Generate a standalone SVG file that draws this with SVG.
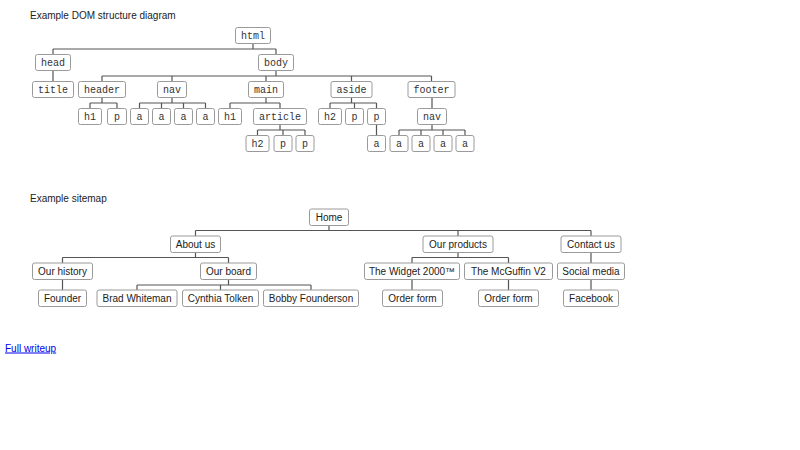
<svg xmlns="http://www.w3.org/2000/svg" width="800" height="450" viewBox="0 0 800 450">
<style>
.bg{fill:#ffffff}
.title{font-family:"Liberation Sans",Arial,sans-serif;font-size:10px;fill:#222}
.box{fill:#ffffff;stroke:#9a9a9a;stroke-width:1}
.mono{font-family:"Liberation Mono","Courier New",monospace;font-size:10px;fill:#333;text-anchor:middle}
.sans{font-family:"Liberation Sans",Arial,sans-serif;font-size:10px;fill:#222;text-anchor:middle}
.conn{fill:none;stroke:#555;stroke-width:1.2}
.link{font-family:"Liberation Sans",Arial,sans-serif;font-size:10px;fill:#0000ee;text-decoration:underline}
</style>
<rect class="bg" x="0" y="0" width="800" height="450"/>
<text class="title" x="30" y="19">Example DOM structure diagram</text>

<g id="dom-connectors">
<path class="conn" d="M253 43.5V49M53 49H276M53 49V54M276 49V54"/>
<path class="conn" d="M53 70.5V81"/>
<path class="conn" d="M276 70.5V76M102 76H431.5M102 76V81M172 76V81M266 76V81M351.5 76V81M431.5 76V81"/>
<path class="conn" d="M102 97.5V103M90 103H117M90 103V108M117 103V108"/>
<path class="conn" d="M172 97.5V103M139.5 103H205.5M139.5 103V108M161.5 103V108M183.5 103V108M205.5 103V108"/>
<path class="conn" d="M266 97.5V103M230 103H280M230 103V108M280 103V108"/>
<path class="conn" d="M351.5 97.5V103M330 103H376.5M330 103V108M354.5 103V108M376.5 103V108"/>
<path class="conn" d="M432 97.5V108"/>
<path class="conn" d="M280 124.5V130M257.5 130H305M257.5 130V135M283 130V135M305 130V135"/>
<path class="conn" d="M376.5 124.5V135"/>
<path class="conn" d="M432 124.5V130M399 130H465M399 130V135M421 130V135M443 130V135M465 130V135"/>
</g>

<g id="dom-html"><rect class="box" x="235.5" y="27.5" width="35" height="16" rx="2"/><text class="mono" x="253" y="39">html</text></g>
<g id="dom-head"><rect class="box" x="35.5" y="54.5" width="35" height="16" rx="2"/><text class="mono" x="53" y="66">head</text></g>
<g id="dom-body"><rect class="box" x="258.5" y="54.5" width="35" height="16" rx="2"/><text class="mono" x="276" y="66">body</text></g>
<g id="dom-title"><rect class="box" x="32.5" y="81.5" width="41" height="16" rx="2"/><text class="mono" x="53" y="93">title</text></g>
<g id="dom-header"><rect class="box" x="78.5" y="81.5" width="47" height="16" rx="2"/><text class="mono" x="102" y="93">header</text></g>
<g id="dom-nav1"><rect class="box" x="157.5" y="81.5" width="29" height="16" rx="2"/><text class="mono" x="172" y="93">nav</text></g>
<g id="dom-main"><rect class="box" x="248.5" y="81.5" width="35" height="16" rx="2"/><text class="mono" x="266" y="93">main</text></g>
<g id="dom-aside"><rect class="box" x="331" y="81.5" width="41" height="16" rx="2"/><text class="mono" x="351.5" y="93">aside</text></g>
<g id="dom-footer"><rect class="box" x="408" y="81.5" width="47" height="16" rx="2"/><text class="mono" x="431.5" y="93">footer</text></g>

<g id="dom-header-h1"><rect class="box" x="78.5" y="108.5" width="23" height="16" rx="2"/><text class="mono" x="90" y="120">h1</text></g>
<g id="dom-header-p"><rect class="box" x="107.5" y="108.5" width="19" height="16" rx="2"/><text class="mono" x="117" y="120">p</text></g>
<g id="dom-nav1-a1"><rect class="box" x="130.5" y="108.5" width="18" height="16" rx="2"/><text class="mono" x="139.5" y="120">a</text></g>
<g id="dom-nav1-a2"><rect class="box" x="152.5" y="108.5" width="18" height="16" rx="2"/><text class="mono" x="161.5" y="120">a</text></g>
<g id="dom-nav1-a3"><rect class="box" x="174.5" y="108.5" width="18" height="16" rx="2"/><text class="mono" x="183.5" y="120">a</text></g>
<g id="dom-nav1-a4"><rect class="box" x="196.5" y="108.5" width="18" height="16" rx="2"/><text class="mono" x="205.5" y="120">a</text></g>
<g id="dom-main-h1"><rect class="box" x="218.5" y="108.5" width="23" height="16" rx="2"/><text class="mono" x="230" y="120">h1</text></g>
<g id="dom-article"><rect class="box" x="253.5" y="108.5" width="53" height="16" rx="2"/><text class="mono" x="280" y="120">article</text></g>
<g id="dom-aside-h2"><rect class="box" x="318.5" y="108.5" width="23" height="16" rx="2"/><text class="mono" x="330" y="120">h2</text></g>
<g id="dom-aside-p1"><rect class="box" x="345.5" y="108.5" width="18" height="16" rx="2"/><text class="mono" x="354.5" y="120">p</text></g>
<g id="dom-aside-p2"><rect class="box" x="367.5" y="108.5" width="18" height="16" rx="2"/><text class="mono" x="376.5" y="120">p</text></g>
<g id="dom-nav2"><rect class="box" x="417.5" y="108.5" width="29" height="16" rx="2"/><text class="mono" x="432" y="120">nav</text></g>

<g id="dom-article-h2"><rect class="box" x="246" y="135.5" width="23" height="16" rx="2"/><text class="mono" x="257.5" y="147">h2</text></g>
<g id="dom-article-p1"><rect class="box" x="274" y="135.5" width="18" height="16" rx="2"/><text class="mono" x="283" y="147">p</text></g>
<g id="dom-article-p2"><rect class="box" x="296" y="135.5" width="18" height="16" rx="2"/><text class="mono" x="305" y="147">p</text></g>
<g id="dom-aside-p2-a"><rect class="box" x="367.5" y="135.5" width="18" height="16" rx="2"/><text class="mono" x="376.5" y="147">a</text></g>
<g id="dom-nav2-a1"><rect class="box" x="390" y="135.5" width="18" height="16" rx="2"/><text class="mono" x="399" y="147">a</text></g>
<g id="dom-nav2-a2"><rect class="box" x="412" y="135.5" width="18" height="16" rx="2"/><text class="mono" x="421" y="147">a</text></g>
<g id="dom-nav2-a3"><rect class="box" x="434" y="135.5" width="18" height="16" rx="2"/><text class="mono" x="443" y="147">a</text></g>
<g id="dom-nav2-a4"><rect class="box" x="456" y="135.5" width="18" height="16" rx="2"/><text class="mono" x="465" y="147">a</text></g>

<text class="title" x="30" y="202">Example sitemap</text>

<g id="site-connectors">
<path class="conn" d="M329 225.5V230.5M195.5 230.5H591M195.5 230.5V236M458 230.5V236M591 230.5V236"/>
<path class="conn" d="M195.5 252.5V257.5M62.5 257.5H228.5M62.5 257.5V263M228.5 257.5V263"/>
<path class="conn" d="M62.5 279.5V290"/>
<path class="conn" d="M228.5 279.5V285M137 285H311M137 285V290M220.5 285V290M311 285V290"/>
<path class="conn" d="M458 252.5V257.5M412 257.5H508.5M412 257.5V263M508.5 257.5V263"/>
<path class="conn" d="M412 279.5V290M508.5 279.5V290"/>
<path class="conn" d="M591 252.5V263M591 279.5V290"/>
</g>

<g id="site-home"><rect class="box" x="309.5" y="209" width="39" height="16.5" rx="2"/><text class="sans" x="329" y="220.8">Home</text></g>
<g id="site-about"><rect class="box" x="170.5" y="236" width="50" height="16.5" rx="2"/><text class="sans" x="195.5" y="247.8">About us</text></g>
<g id="site-products"><rect class="box" x="423" y="236" width="70" height="16.5" rx="2"/><text class="sans" x="458" y="247.8">Our products</text></g>
<g id="site-contact"><rect class="box" x="561" y="236" width="60" height="16.5" rx="2"/><text class="sans" x="591" y="247.8">Contact us</text></g>
<g id="site-history"><rect class="box" x="32.5" y="263" width="60" height="16.5" rx="2"/><text class="sans" x="62.5" y="274.8">Our history</text></g>
<g id="site-board"><rect class="box" x="200.5" y="263" width="56" height="16.5" rx="2"/><text class="sans" x="228.5" y="274.8">Our board</text></g>
<g id="site-widget"><rect class="box" x="364.5" y="263" width="95" height="16.5" rx="2"/><text class="sans" x="412" y="274.8">The Widget 2000™</text></g>
<g id="site-mcguffin"><rect class="box" x="464.5" y="263" width="88" height="16.5" rx="2"/><text class="sans" x="508.5" y="274.8">The McGuffin V2</text></g>
<g id="site-social"><rect class="box" x="557.5" y="263" width="67" height="16.5" rx="2"/><text class="sans" x="591" y="274.8">Social media</text></g>
<g id="site-founder"><rect class="box" x="38.5" y="290" width="48" height="16.5" rx="2"/><text class="sans" x="62.5" y="301.8">Founder</text></g>
<g id="site-brad"><rect class="box" x="97" y="290" width="80" height="16.5" rx="2"/><text class="sans" x="137" y="301.8">Brad Whiteman</text></g>
<g id="site-cynthia"><rect class="box" x="182.5" y="290" width="76" height="16.5" rx="2"/><text class="sans" x="220.5" y="301.8">Cynthia Tolken</text></g>
<g id="site-bobby"><rect class="box" x="263.5" y="290" width="95" height="16.5" rx="2"/><text class="sans" x="311" y="301.8">Bobby Founderson</text></g>
<g id="site-order1"><rect class="box" x="382.5" y="290" width="60" height="16.5" rx="2"/><text class="sans" x="412.5" y="301.8">Order form</text></g>
<g id="site-order2"><rect class="box" x="478.5" y="290" width="60" height="16.5" rx="2"/><text class="sans" x="508.5" y="301.8">Order form</text></g>
<g id="site-facebook"><rect class="box" x="563.5" y="290" width="55" height="16.5" rx="2"/><text class="sans" x="591" y="301.8">Facebook</text></g>

<text class="link" x="5" y="351.5">Full writeup</text>
</svg>
